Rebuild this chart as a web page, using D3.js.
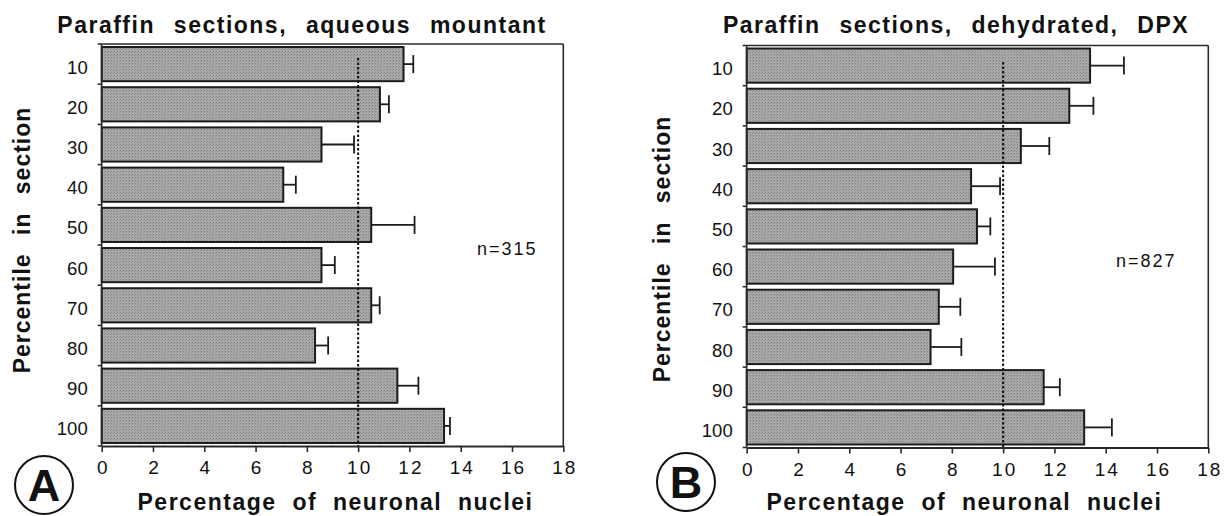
<!doctype html>
<html>
<head>
<meta charset="utf-8">
<title>Percentile of neuronal nuclei</title>
<script src="https://cdn.jsdelivr.net/npm/d3@7"></script>
<style>
    body { margin: 0; background: #fff; }
    svg { display: block; font-family: "Liberation Sans", Arial, sans-serif; }
    .frame line { stroke: #2a2a2a; stroke-width: 1.6; }
    .tick text { fill: #111; }
    .title, .xlabel, .ylabel { font-weight: bold; fill: #111; }
</style>
</head>
<body>
<script>
"use strict";

const percentiles = [10, 20, 30, 40, 50, 60, 70, 80, 90, 100];
const xTicks = [0, 2, 4, 6, 8, 10, 12, 14, 16, 18];
const refValue = 10;

// A: aqueous mountant
const aqueousMean = [11.77, 10.85, 8.57, 7.08, 10.51, 8.57, 10.51, 8.32, 11.53, 13.35];
const aqueousErr  = [0.38, 0.35, 1.27, 0.49, 1.69, 0.52, 0.33, 0.51, 0.82, 0.23];

// B: dehydrated, DPX
const dpxMean = [13.39, 12.58, 10.69, 8.75, 8.98, 8.05, 7.49, 7.17, 11.58, 13.16];
const dpxErr  = [1.32, 0.94, 1.11, 1.13, 0.52, 1.63, 0.84, 1.20, 0.63, 1.08];

const width = 1225;
const height = 516;

const svg = d3.select("body").append("svg")
    .attr("width", width)
    .attr("height", height)
    .attr("viewBox", [0, 0, width, height]);

// stippled grey like the printed bars
const pat = svg.append("defs").append("pattern")
    .attr("id", "stipple")
    .attr("width", 3).attr("height", 3)
    .attr("patternUnits", "userSpaceOnUse");
pat.append("rect").attr("width", 3).attr("height", 3).attr("fill", "#a9a9a9");
pat.append("rect").attr("x", 0).attr("y", 0).attr("width", 1).attr("height", 1).attr("fill", "#7f7f7f");
pat.append("rect").attr("x", 2).attr("y", 1).attr("width", 1).attr("height", 1).attr("fill", "#8c8c8c");

function panel(p) {
    const g = svg.append("g");

    const x = d3.scaleLinear()
        .domain([0, 18])
        .range([p.left, p.right]);

    const y = d3.scaleBand()
        .domain(percentiles)
        .range([p.top, p.bottom])
        .paddingInner(0.15)
        .paddingOuter(0.075);

    const data = percentiles.map((d, i) => ({ pct: d, mean: p.mean[i], err: p.err[i] }));

    // bars
    g.append("g").selectAll("rect")
        .data(data)
        .join("rect")
        .attr("x", x(0))
        .attr("y", d => y(d.pct))
        .attr("width", d => x(d.mean) - x(0))
        .attr("height", y.bandwidth())
        .attr("fill", "url(#stipple)")
        .attr("stroke", "#1c1c1c")
        .attr("stroke-width", 2);

    // one-sided error bars
    const eb = g.append("g")
        .attr("stroke", "#1c1c1c")
        .attr("stroke-width", 1.8);
    eb.selectAll(".whisker")
        .data(data)
        .join("line")
        .attr("x1", d => x(d.mean))
        .attr("x2", d => x(d.mean + d.err))
        .attr("y1", d => y(d.pct) + y.bandwidth() / 2)
        .attr("y2", d => y(d.pct) + y.bandwidth() / 2);
    eb.selectAll(".cap")
        .data(data)
        .join("line")
        .attr("x1", d => x(d.mean + d.err))
        .attr("x2", d => x(d.mean + d.err))
        .attr("y1", d => y(d.pct) + y.bandwidth() / 2 - 9)
        .attr("y2", d => y(d.pct) + y.bandwidth() / 2 + 9);

    // 10 % reference line
    g.append("line")
        .attr("x1", x(refValue)).attr("x2", x(refValue))
        .attr("y1", p.refTop).attr("y2", p.bottom)
        .attr("stroke", "#111")
        .attr("stroke-width", 2)
        .attr("stroke-dasharray", "2.5,2");

    // frame
    const fr = g.append("g").attr("class", "frame");
    fr.append("line").attr("x1", p.left).attr("x2", p.right).attr("y1", p.top).attr("y2", p.top);
    fr.append("line").attr("x1", p.right).attr("x2", p.right).attr("y1", p.top).attr("y2", p.bottom);

    // x axis
    g.append("g")
        .attr("transform", `translate(0,${p.bottom})`)
        .call(d3.axisBottom(x).tickValues(xTicks).tickSize(6).tickPadding(9).tickSizeOuter(0))
        .call(a => a.select(".domain").attr("stroke", "#2a2a2a").attr("stroke-width", 1.8))
        .call(a => a.selectAll(".tick line").attr("stroke", "#2a2a2a").attr("stroke-width", 1.6))
        .call(a => a.selectAll(".tick text")
            .attr("font-size", 19)
            .attr("letter-spacing", "2px")
            .attr("dx", "1px")
            .attr("font-family", "Liberation Sans, Arial, sans-serif"));

    // y axis: ticks sit between the bands
    const yAxis = g.append("g").attr("class", "frame");
    yAxis.append("line").attr("x1", p.left).attr("x2", p.left).attr("y1", p.top).attr("y2", p.bottom);
    const step = y.step();
    yAxis.selectAll(".sep")
        .data(d3.range(0, percentiles.length + 1))
        .join("line")
        .attr("x1", p.left - 4).attr("x2", p.left)
        .attr("y1", i => p.top + i * step)
        .attr("y2", i => p.top + i * step);
    g.append("g").selectAll("text")
        .data(percentiles)
        .join("text")
        .attr("x", p.left - 14)
        .attr("y", d => y(d) + y.bandwidth() / 2 + 9.5)
        .attr("text-anchor", "end")
        .attr("font-size", 18.5)
        .attr("fill", "#111")
        .text(d => d);

    // titles and labels
    g.append("text")
        .attr("class", "title")
        .attr("x", p.titleX).attr("y", 33)
        .attr("text-anchor", "middle")
        .attr("font-size", 23)
        .attr("letter-spacing", "1.5px")
        .attr("word-spacing", "11px")
        .text(p.title);

    g.append("text")
        .attr("class", "xlabel")
        .attr("x", (p.left + p.right) / 2 + p.xlabelShift).attr("y", 510)
        .attr("text-anchor", "middle")
        .attr("font-size", 23)
        .attr("letter-spacing", "1.5px")
        .attr("word-spacing", "8px")
        .text("Percentage of neuronal nuclei");

    g.append("text")
        .attr("class", "ylabel")
        .attr("transform", `translate(${p.ylabelX},${p.ylabelY}) rotate(-90)`)
        .attr("text-anchor", "middle")
        .attr("font-size", 23)
        .attr("letter-spacing", "1px")
        .attr("word-spacing", "11px")
        .text("Percentile in section");

    g.append("text")
        .attr("x", p.nX).attr("y", p.nY)
        .attr("font-size", 18)
        .attr("letter-spacing", "2px")
        .attr("fill", "#111")
        .text(p.n);

    // circled panel letter
    g.append("circle")
        .attr("cx", p.cx).attr("cy", p.cy).attr("r", 29)
        .attr("fill", "none")
        .attr("stroke", "#111")
        .attr("stroke-width", 2);
    g.append("text")
        .attr("x", p.cx).attr("y", p.cy + 16)
        .attr("text-anchor", "middle")
        .attr("font-size", 45)
        .attr("font-weight", "bold")
        .attr("fill", "#111")
        .text(p.letter);
}

panel({
    title: "Paraffin sections, aqueous mountant",
    mean: aqueousMean, err: aqueousErr,
    left: 101.7, right: 563.3, top: 44, bottom: 446, refTop: 58,
    titleX: 302, xlabelShift: 3,
    ylabelX: 30, ylabelY: 240,
    n: "n=315", nX: 477, nY: 255,
    letter: "A", cx: 44, cy: 485
});

panel({
    title: "Paraffin sections, dehydrated, DPX",
    mean: dpxMean, err: dpxErr,
    left: 746.7, right: 1208.3, top: 45.5, bottom: 447.5, refTop: 62,
    titleX: 956, xlabelShift: -13,
    ylabelX: 670, ylabelY: 249,
    n: "n=827", nX: 1116, nY: 267,
    letter: "B", cx: 686, cy: 482
});
</script>
</body>
</html>
